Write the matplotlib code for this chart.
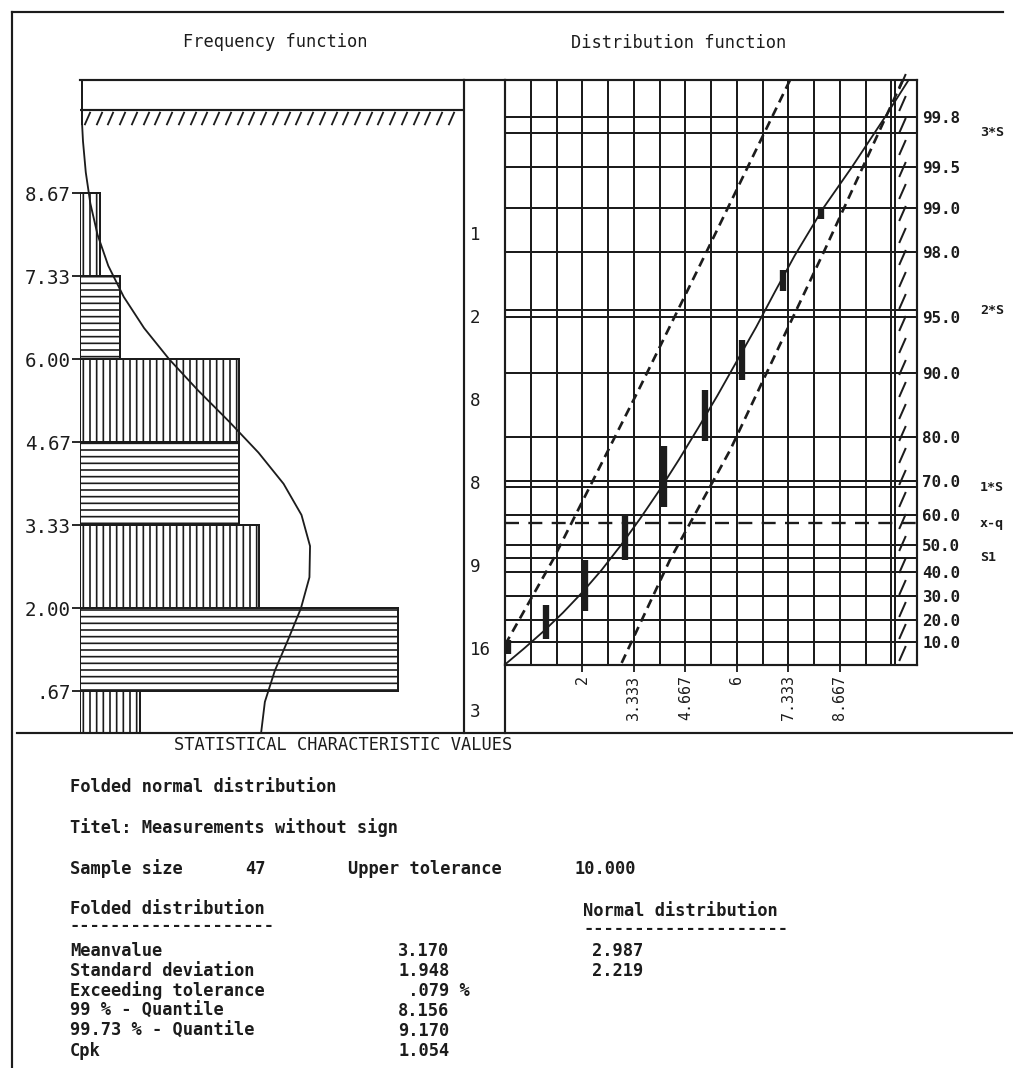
import math
from statistics import NormalDist

import numpy as np
import matplotlib
matplotlib.use('Agg')
import matplotlib.pyplot as plt
from matplotlib.lines import Line2D
from matplotlib.path import Path
import matplotlib.transforms as mtransforms

W, H, DPI = 1013, 1068, 120
INK = '#1c1c1c'
MONO = 'DejaVu Sans Mono'

# ---- frequency function (histogram of the folded values) ----
bin_edges = [0.0, 0.667, 2.0, 3.333, 4.667, 6.0, 7.333, 8.667]
counts = [3, 16, 9, 8, 8, 2, 1]
edge_ticks = [0.667, 2.0, 3.333, 4.667, 6.0, 7.333, 8.667]
edge_labels = ['.67', '2.00', '3.33', '4.67', '6.00', '7.33', '8.67']
upper_tol = 10.0

# fitted density, expressed as expected count per class
curve_v = [0.0, 0.5, 1.0, 1.5, 2.0, 2.5, 3.0, 3.5, 4.0, 4.5, 5.0, 5.5,
           6.0, 6.5, 7.0, 7.5, 8.0, 8.5, 9.0, 9.5, 9.8]
curve_n = [9.10, 9.29, 9.79, 10.46, 11.10, 11.53, 11.56, 11.13, 10.23, 8.97,
           7.49, 5.93, 4.48, 3.22, 2.20, 1.42, 0.88, 0.52, 0.29, 0.15, 0.10]

# ---- distribution function (half-normal probability paper) ----
pct_ticks = [10, 20, 30, 40, 50, 60, 70, 80, 90, 95, 98, 99, 99.5, 99.8]
pct_labels = ['10.0', '20.0', '30.0', '40.0', '50.0', '60.0', '70.0',
              '80.0', '90.0', '95.0', '98.0', '99.0', '99.5', '99.8']
sigma_pct = [99.73, 95.45, 68.27]
sigma_labels = ['3*S', '2*S', '1*S']
mean_pct = 57.5
s1_pct = 45.3
value_ticks = [2, 3.333, 4.667, 6, 7.333, 8.667]
value_labels = ['2', '3.333', '4.667', '6', '7.333', '8.667']

fit_v = [0.0, 0.5, 1.0, 1.5, 2.0, 2.5, 3.0, 3.5, 4.0, 4.5, 5.0, 5.5, 6.0,
         6.5, 7.0, 7.5, 8.24, 8.98, 9.84, 10.45]
fit_pct = [0.0, 7.3, 14.9, 23.0, 31.6, 40.6, 49.9, 59.0, 67.5, 75.2, 81.8,
           87.1, 91.3, 94.3, 96.5, 97.9, 99.0, 99.5, 99.8, 99.903]
lower_v = [0.0, 1.24, 3.50, 5.13, 7.38]
lower_pct = [8.8, 44.5, 88.3, 97.8, 99.903]
upper_v = [3.02, 4.27, 5.83, 8.29, 10.3]
upper_pct = [0.7, 44.5, 77.4, 98.1, 99.903]

# observed cumulative frequencies (stacked points per value)
point_v = [0.08, 1.06, 2.07, 3.1, 4.12, 5.18, 6.14, 7.2, 8.19]
point_lo = [4.6, 11.6, 23.9, 44.5, 62.5, 79.3, 89.2, 96.5, 98.8]
point_hi = [11.0, 26.3, 44.5, 60.5, 78.3, 87.9, 93.3, 97.4, 99.0]

# ---- statistical characteristic values ----
sample_size = 47
tolerance_text = '10.000'
stat_names = ['Meanvalue', 'Standard deviation', 'Exceeding tolerance',
              '99 % - Quantile', '99.73 % - Quantile', 'Cpk']
folded_vals = ['3.170', '1.948', ' .079 %', '8.156', '9.170', '1.054']
normal_vals = ['2.987', '2.219']


def half_normal_fwd(p):
    p = np.asarray(p, dtype=float)
    c = np.clip(np.abs(p) / 100.0, 0.0, 1.0 - 1e-9)
    q = np.array([NormalDist().inv_cdf((1.0 + x) / 2.0) for x in c.ravel()],
                 dtype=float).reshape(c.shape)
    return np.sign(p) * q


def half_normal_inv(q):
    q = np.asarray(q, dtype=float)
    f = np.vectorize(lambda z: 100.0 * math.erf(z / math.sqrt(2.0)))
    return f(q) if q.size else q


def fx(x):
    return x / W


def fy(y):
    return 1.0 - y / H


fig = plt.figure(figsize=(W / DPI, H / DPI), dpi=DPI)
fig.patch.set_facecolor('white')
plt.rcParams['hatch.linewidth'] = 1.0


def fline(x0, y0, x1, y1, lw=1.3, **kw):
    fig.add_artist(Line2D([fx(x0), fx(x1)], [fy(y0), fy(y1)], color=INK,
                          lw=lw, transform=fig.transFigure, **kw))


def ftext(x, y, s, size=10.2, weight='normal', **kw):
    fig.text(fx(x), fy(y), s, fontsize=size, family=MONO, weight=weight,
             color=INK, va='center', **kw)


# outer frame and separators
fline(12, 12, 12, 1068)
fline(12, 12, 1003, 12)
fline(17, 733, 1013, 733)
fline(464, 80, 505, 80)
fline(505, 664, 505, 733)

ftext(275, 42, 'Frequency function', ha='center')
ftext(679, 43, 'Distribution function', ha='center')

slash = Path([(-0.22, -0.5), (0.22, 0.5)], [Path.MOVETO, Path.LINETO])

# ---------------- left: histogram ----------------
axl = fig.add_axes([fx(80), fy(733), fx(464 - 80), (733 - 80) / H])
axl.set_xlim(0, 384 / 19.9)
axl.set_ylim(0, 653 / 62.3)
for s in ['left', 'bottom']:
    axl.spines[s].set_visible(False)
for s in ['top', 'right']:
    axl.spines[s].set_linewidth(1.3)
    axl.spines[s].set_color(INK)
axl.set_xticks([])
axl.set_yticks(edge_ticks, edge_labels)
axl.tick_params(axis='y', direction='out', length=5, width=1.1, color=INK,
                pad=0.5, labelsize=11.5, labelcolor=INK)
for lab in axl.get_yticklabels():
    lab.set_family(MONO)

heights = np.diff(bin_edges)
bars = axl.barh(bin_edges[:-1], counts, height=heights, align='edge',
                fill=False, edgecolor=INK, linewidth=1.2)
for i, b in enumerate(bars):
    b.set_hatch('|||' if i % 2 == 0 else '---')

axl.plot(curve_n, curve_v, color=INK, lw=1.1)
axl.axhline(upper_tol, color=INK, lw=1.3)
axl.plot([0.1, 0.1], [9.78, 10.48], color=INK, lw=1.2, clip_on=False)
band_x = np.arange(0.35, 19.0, 0.59)
axl.plot(band_x, np.full(band_x.shape, 9.87), ls='none', marker=slash,
         ms=8, mew=1.1, mec=INK)

blend_l = mtransforms.blended_transform_factory(axl.transAxes, axl.transData)
for lo, hi, n in zip(bin_edges[:-1], bin_edges[1:], counts):
    axl.text(1.016, (lo + hi) / 2, str(n), transform=blend_l, fontsize=10.5,
             family=MONO, color=INK, ha='left', va='center')

# ---------------- right: probability paper ----------------
axr = fig.add_axes([fx(505), fy(664.5), fx(917 - 505), (664.5 - 80) / H])
axr.set_yscale('function', functions=(half_normal_fwd, half_normal_inv))
axr.set_xlim(0, 10.667)
axr.set_ylim(0, 99.903)
for s in axr.spines.values():
    s.set_linewidth(1.3)
    s.set_color(INK)

for k in range(1, 16):
    axr.axvline(k * 10.667 / 16, color=INK, lw=1.2)
axr.axvline(upper_tol + 0.1, color=INK, lw=1.2)
for p in pct_ticks:
    axr.axhline(p, color=INK, lw=1.2)
for p in sigma_pct:
    axr.axhline(p, color=INK, lw=1.2)
axr.axhline(s1_pct, color=INK, lw=1.2)
axr.axhline(mean_pct, color=INK, lw=1.4, dashes=(6, 4))

col_y = np.arange(0.02, 1.0, 0.0376)
axr.plot(np.full(col_y.shape, 10.27), col_y, ls='none', marker=slash, ms=9,
         mew=1.2, mec=INK, transform=axr.get_xaxis_transform(), clip_on=False)

axr.plot(fit_v, fit_pct, color=INK, lw=1.1)
axr.plot(lower_v, lower_pct, color=INK, lw=1.6, dashes=(3.5, 2.2))
axr.plot(upper_v, upper_pct, color=INK, lw=1.6, dashes=(3.5, 2.2))
axr.vlines(point_v, point_lo, point_hi, color=INK, lw=3.8)

axr.yaxis.tick_right()
axr.set_yticks(pct_ticks, pct_labels)
axr.yaxis.set_minor_locator(matplotlib.ticker.NullLocator())
axr.tick_params(axis='y', length=0, pad=3, labelsize=9.5, labelcolor=INK)
for lab in axr.get_yticklabels():
    lab.set_family(MONO)
    lab.set_weight('bold')

axr.set_xticks(value_ticks, value_labels, rotation=90)
axr.xaxis.set_minor_locator(matplotlib.ticker.NullLocator())
axr.tick_params(axis='x', direction='out', length=4, width=1.1, color=INK,
                pad=2, labelsize=9, labelcolor=INK)
for lab in axr.get_xticklabels():
    lab.set_family(MONO)

blend_r = mtransforms.blended_transform_factory(axr.transAxes, axr.transData)
for p, s in zip(sigma_pct, sigma_labels):
    axr.text(1.153, p, s, transform=blend_r, fontsize=8, family=MONO,
             weight='bold', color=INK, va='center')
axr.text(1.153, mean_pct, 'x-q', transform=blend_r, fontsize=8, family=MONO,
         weight='bold', color=INK, va='center')
axr.text(1.153, s1_pct, 'S1', transform=blend_r, fontsize=8, family=MONO,
         weight='bold', color=INK, va='center')

# ---------------- statistics block ----------------
ftext(174, 745, 'STATISTICAL CHARACTERISTIC VALUES')
ftext(70, 787, 'Folded normal distribution', weight='bold')
ftext(70, 828, 'Titel: Measurements without sign', weight='bold')
ftext(70, 869, 'Sample size', weight='bold')
ftext(245, 869, str(sample_size), weight='bold')
ftext(348, 869, 'Upper tolerance', weight='bold')
ftext(574, 869, tolerance_text, weight='bold')
ftext(70, 909, 'Folded distribution', weight='bold')
ftext(70, 926, '-' * 20, weight='bold')
ftext(583, 911, 'Normal distribution', weight='bold')
ftext(583, 929, '-' * 20, weight='bold')
for i, name in enumerate(stat_names):
    y = 951 + i * 20
    ftext(70, y, name, weight='bold')
    ftext(398, y, folded_vals[i], weight='bold')
for i, val in enumerate(normal_vals):
    ftext(592, 951 + i * 20, val, weight='bold')

fig.savefig('out.png', dpi=DPI, facecolor='white')
